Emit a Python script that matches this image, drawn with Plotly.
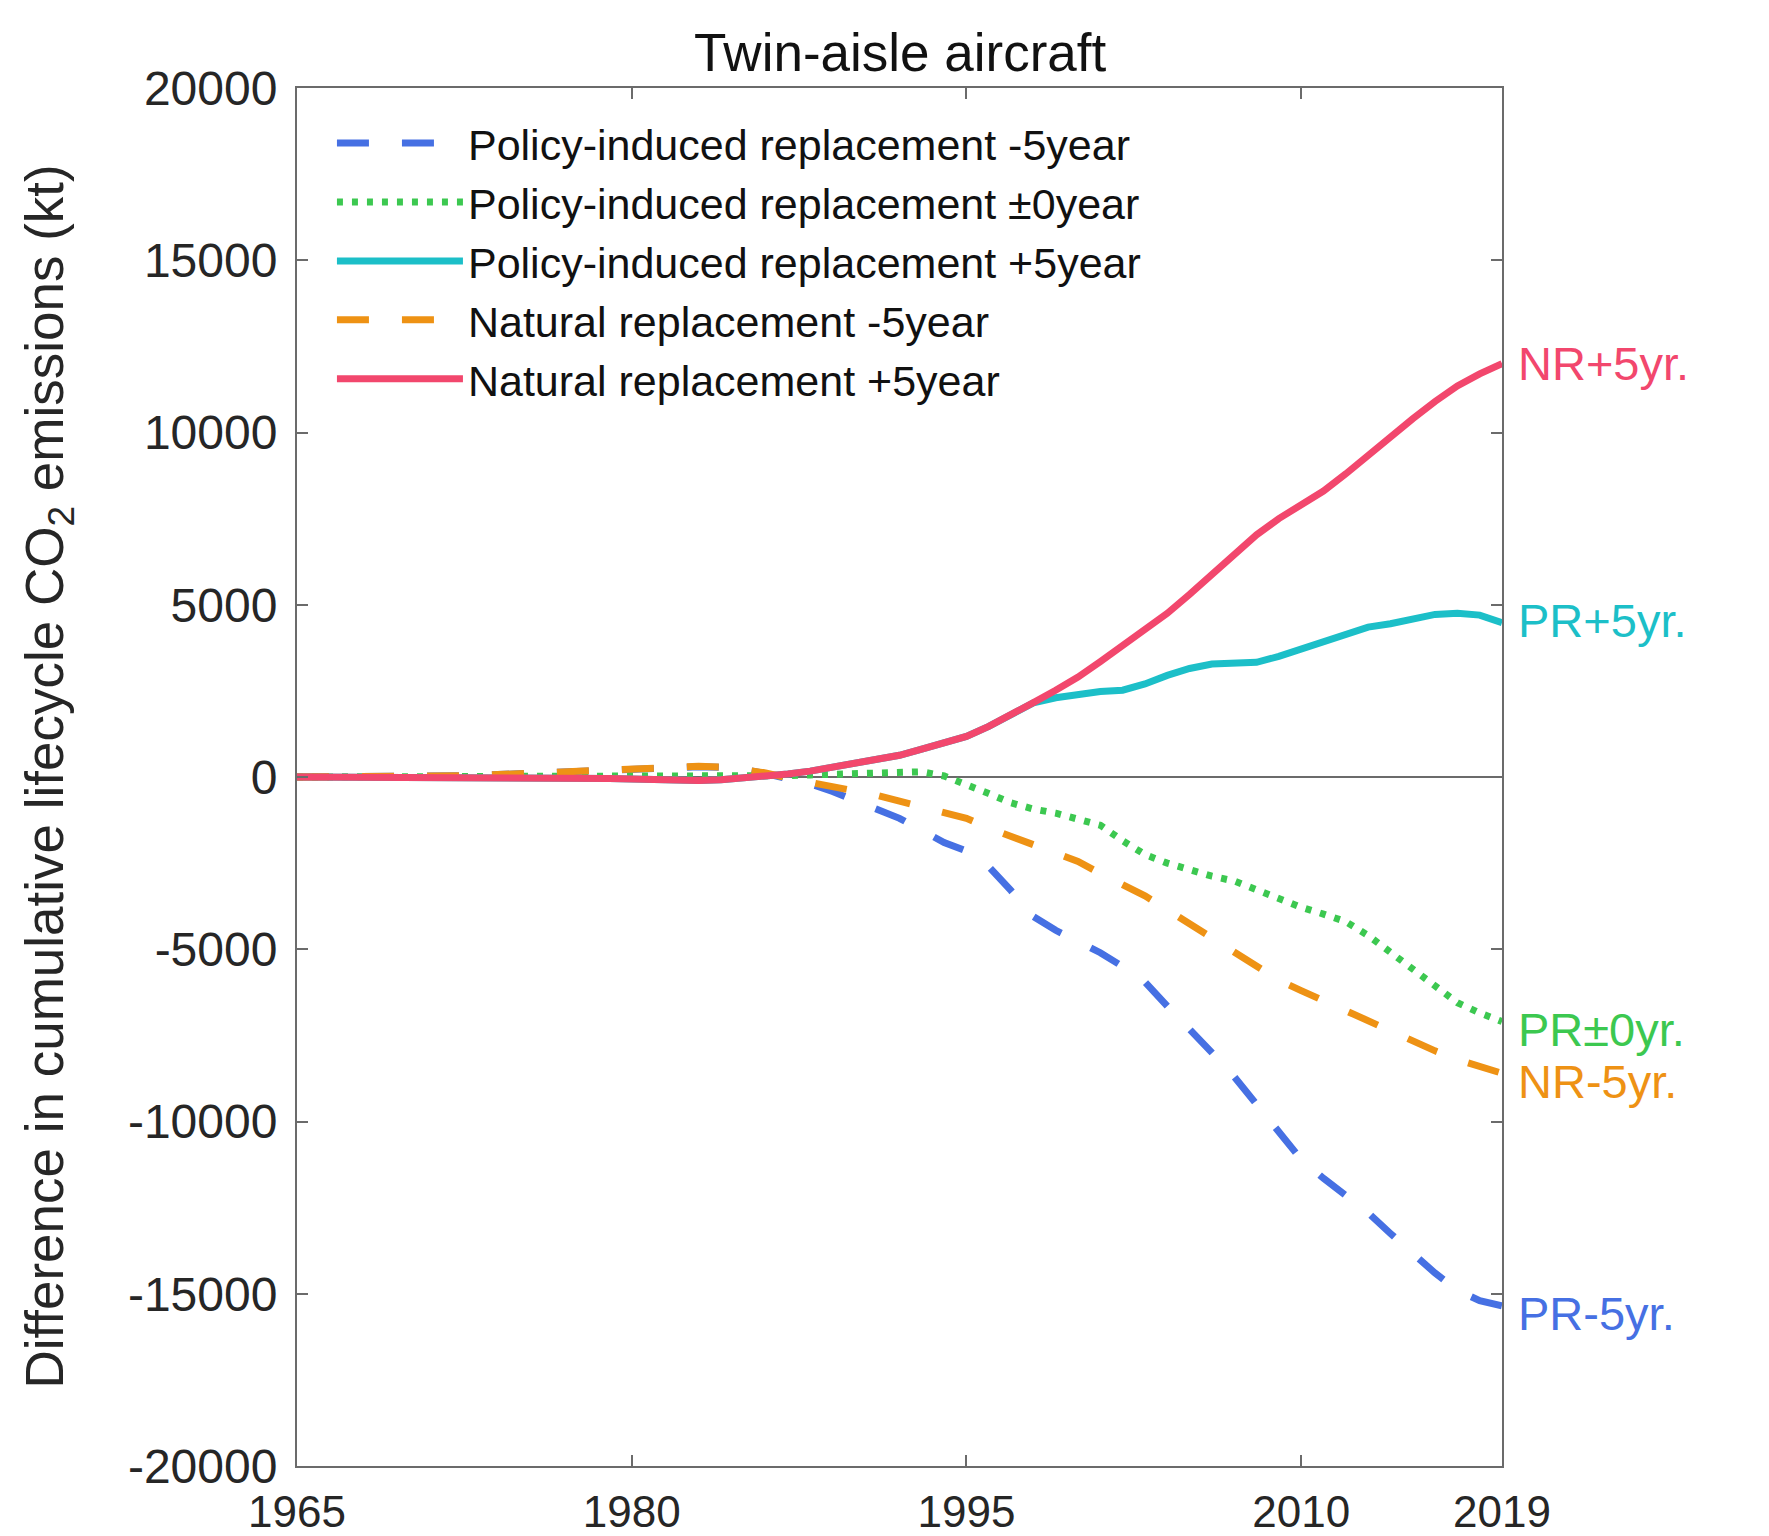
import plotly.graph_objects as go

years = list(range(1965, 2020))

# Policy-induced replacement -5year
pr_m5 = [0, 0, 0, 0, 0, 0, 0, 0, 40, 70, 100, 120, 150, 170, 200, 220, 260, 290, 300, 280, 220,
         100, -60, -200, -420, -680, -930, -1200, -1550, -1900, -2150, -2600, -3300, -4050, -4450,
         -4750, -5100, -5500, -5950, -6650, -7300, -8000, -8700, -9500, -10350, -11100, -11650,
         -12150, -12650, -13250, -13850, -14400, -14900, -15200, -15350]
# Policy-induced replacement ±0year
pr_0 = [0, 0, 0, 0, 0, 0, 0, 0, 0, 0, 0, 0, 0, 0, 0, 0, 0, 0, 0, 0, 0,
        20, 40, 60, 80, 100, 130, 160, 150, 30, -200, -480, -750, -930, -1050,
        -1200, -1400, -1850, -2250, -2500, -2700, -2880, -3020, -3280, -3530, -3780, -3980,
        -4200, -4600, -5100, -5600, -6100, -6550, -6850, -7100]
# Policy-induced replacement +5year
pr_p5 = [0, 0, 0, 0, 0, 0, 0, 0, 0, 0, 0, -5, -10, -20, -40, -60, -80, -95, -100, -80, -40,
         0, 90, 170, 280, 370, 490, 630, 810, 980, 1180, 1470, 1800, 2150, 2300,
         2400, 2480, 2520, 2700, 2950, 3150, 3280, 3320, 3330, 3500, 3700, 3950,
         4150, 4350, 4450, 4600, 4720, 4750, 4700, 4480]
# Natural replacement -5year
nr_m5 = [0, 0, 0, 0, 0, 0, 0, 0, 40, 70, 100, 120, 150, 170, 200, 220, 260, 300, 310, 290, 230,
         120, -30, -150, -280, -400, -530, -700, -860, -1000, -1200, -1480, -1730, -1950, -2200,
         -2450, -2800, -3100, -3450, -3850, -4250, -4700, -5100, -5500, -5900, -6200, -6500,
         -6800, -7100, -7400, -7650, -7950, -8200, -8420, -8600]
# Natural replacement +5year
nr_p5 = [0, 0, 0, 0, 0, 0, 0, 0, 0, 0, 0, -5, -10, -20, -40, -60, -80, -95, -100, -80, -40,
         0, 90, 170, 280, 370, 490, 630, 810, 980, 1180, 1470, 1800, 2160, 2520,
         2900, 3350, 3800, 4250, 4750, 5300, 5870, 6450, 7030, 7500, 7900, 8300,
         8800, 9350, 9900, 10400, 10900, 11350, 11700, 12000]

names = ["Policy-induced replacement -5year", "Policy-induced replacement \u00b10year",
         "Policy-induced replacement +5year", "Natural replacement -5year",
         "Natural replacement +5year"]
end_labels = ["PR-5yr.", "PR\u00b10yr.", "PR+5yr.", "NR-5yr.", "NR+5yr."]
series = [pr_m5, pr_0, pr_p5, nr_m5, nr_p5]
colors = ["#4670E3", "#3CC850", "#1CBFC8", "#EE9214", "#F2476D"]
dashes = ["32px,33px", "6px,9px", "solid", "32px,33px", "solid"]
label_yshift = [-8, -8, 2, -8, 0]

x_ticks = [1965, 1980, 1995, 2010, 2019]
y_ticks = [-20000, -15000, -10000, -5000, 0, 5000, 10000, 15000, 20000]

FONT = "Liberation Sans, Arial, sans-serif"

fig = go.Figure()
for name, ys, c, d in zip(names, series, colors, dashes):
    fig.add_trace(go.Scatter(x=years, y=ys, mode="lines", name=name,
                             line=dict(color=c, width=7, dash=d)))

for lab, ys, c, ysh in zip(end_labels, series, colors, label_yshift):
    fig.add_annotation(x=years[-1], y=ys[-1], xref="x", yref="y", text=lab,
                       showarrow=False, xanchor="left", yanchor="middle",
                       xshift=14, yshift=ysh, font=dict(family=FONT, size=47, color=c))

fig.add_annotation(x=-0.207, y=0.5, xref="paper", yref="paper", xanchor="center",
                   yanchor="middle", textangle=-90, showarrow=False,
                   text="Difference in cumulative lifecycle CO<sub>2</sub> emissions (kt)",
                   font=dict(family=FONT, size=53, color="#262626"))

axis_common = dict(showline=True, linecolor="#6b6b6b", linewidth=2, mirror="ticks",
                   ticks="inside", ticklen=11, tickwidth=2, tickcolor="#6b6b6b",
                   showgrid=False, automargin=False)

fig.update_layout(
    width=1769, height=1536,
    margin=dict(l=289, r=275, t=80, b=78),
    paper_bgcolor="white", plot_bgcolor="white",
    title=dict(text="Twin-aisle aircraft", x=0.5043, xanchor="center", y=0.971,
               yanchor="middle", font=dict(family=FONT, size=53, color="#111111")),
    xaxis=dict(range=[1965, 2019], tickvals=x_ticks, ticktext=[str(v) for v in x_ticks],
               zeroline=False, tickfont=dict(family=FONT, size=44, color="#262626"),
               ticklabelstandoff=6, **axis_common),
    yaxis=dict(range=[-20000, 20000], tickvals=y_ticks, ticktext=[str(v) for v in y_ticks],
               zeroline=True, zerolinecolor="#6b6b6b", zerolinewidth=2,
               tickfont=dict(family=FONT, size=48, color="#262626"),
               ticklabelstandoff=8, **axis_common),
    legend=dict(x=0.029, y=0.985, xanchor="left", yanchor="top", bgcolor="rgba(0,0,0,0)",
                font=dict(family=FONT, size=43, color="#111111"), itemwidth=126,
                tracegroupgap=0),
    showlegend=True,
)

fig.write_html("out.html")
